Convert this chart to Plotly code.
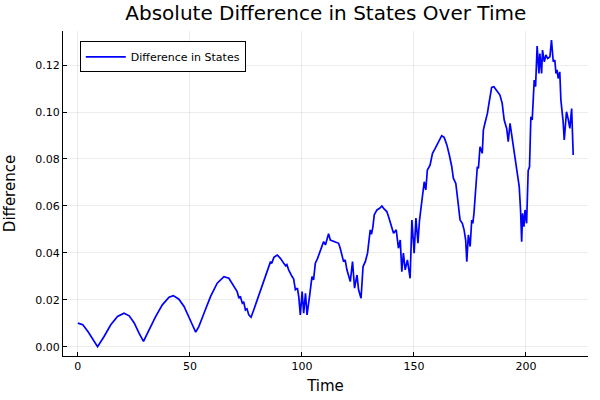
import plotly.graph_objects as go

time = [0, 2.2, 4.5, 6.7, 8.8, 11.7, 14.7, 17.7, 20.6, 22.9, 25.1, 27.3, 29.3, 31.8, 34.7,
        37.7, 40.7, 42.6, 45.1, 47.4, 49.6, 51.1, 52.6, 54.0, 56.3, 59.2, 62.2, 65.2, 67.4,
        69.6, 71.1, 71.9, 72.5, 73.4, 74.0, 74.8, 75.5, 76.3, 77.3, 78.5, 80.0, 82.3, 84.5,
        86.0, 86.5, 87.5, 89.0, 90.4, 91.9, 92.8, 93.3, 94.1, 95.6, 96.3, 97.1, 98.0, 98.6,
        99.3, 100.1, 100.8, 101.6, 102.3, 103.5, 104.5, 105.2, 106.0, 107.0, 108.2, 109.7,
        110.5, 111.9, 112.7, 114.9, 116.4, 117.1, 117.9, 118.6, 119.3, 120.1, 121.6, 122.6,
        123.5, 124.6, 125.3, 126.4, 127.3, 128.3, 129.3, 130.5, 131.1, 131.7, 132.3, 133.5,
        134.7, 135.7, 136.8, 137.9, 138.9, 139.8, 140.9, 142.1, 143.1, 143.9, 144.6, 145.3,
        146.1, 147.1, 148.3, 149.1, 150.1, 150.9, 151.8, 152.5, 153.5, 154.6, 155.3, 156.0,
        157.2, 158.3, 159.5, 160.6, 161.7, 162.4, 163.5, 164.7, 165.8, 166.9, 167.6, 168.7,
        169.4, 170.2, 170.6, 171.6, 172.4, 173.1, 173.6, 174.3, 175.1, 175.8, 176.3, 176.8,
        177.7, 178.3, 178.8, 179.5, 180.5, 181.0, 181.7, 182.8, 183.5, 184.7, 185.7, 186.9,
        188.4, 189.4, 190.3, 191.4, 192.1, 192.9, 193.6, 194.4, 195.4, 196.2, 197.0, 197.6,
        198.1, 198.5, 199.1, 199.6, 200.3, 201.0, 201.6, 202.2, 202.8, 203.7, 204.3, 205.0,
        205.8, 206.2, 207.0, 207.4, 208.2, 208.9, 209.7, 210.7, 211.4, 212.2, 212.9, 213.4,
        213.9, 214.4, 215.1, 215.6, 216.2, 216.6, 217.1, 217.7, 218.1, 218.8, 219.6, 220.4,
        221.1]

difference = [0.0101, 0.0094, 0.0065, 0.0034, 0.0001, 0.0044, 0.0094, 0.0129, 0.0143, 0.0132,
              0.0103, 0.0058, 0.0023, 0.0072, 0.0129, 0.0179, 0.0211, 0.0218, 0.0203, 0.0172,
              0.0122, 0.0094, 0.0063, 0.0086, 0.0143, 0.0214, 0.0271, 0.0299, 0.0292, 0.0258,
              0.0235, 0.0207, 0.0215, 0.0186, 0.0192, 0.0157, 0.0162, 0.0136, 0.0126, 0.0157,
              0.0200, 0.0257, 0.0320, 0.0363, 0.0355, 0.0381, 0.0391, 0.0377, 0.0356, 0.0345,
              0.0350, 0.0328, 0.0299, 0.0290, 0.0243, 0.0250, 0.0214, 0.0136, 0.0235, 0.0143,
              0.0228, 0.0136, 0.0221, 0.0299, 0.0285, 0.0356, 0.0377, 0.0405, 0.0448, 0.0434,
              0.0482, 0.0455, 0.0448, 0.0441, 0.0420, 0.0391, 0.0363, 0.0370, 0.0328, 0.0278,
              0.0363, 0.0250, 0.0306, 0.0243, 0.0207, 0.0342, 0.0363, 0.0399, 0.0498, 0.0480,
              0.0512, 0.0562, 0.0583, 0.0590, 0.0600, 0.0586, 0.0576, 0.0548, 0.0519, 0.0484,
              0.0498, 0.0420, 0.0455, 0.0320, 0.0399, 0.0328, 0.0370, 0.0292, 0.0540, 0.0399,
              0.0548, 0.0441, 0.0540, 0.0611, 0.0703, 0.0668, 0.0753, 0.0774, 0.0824, 0.0845,
              0.0867, 0.0888, 0.0899, 0.0892, 0.0860, 0.0817, 0.0767, 0.0718, 0.0696, 0.0640,
              0.0583, 0.0540, 0.0526, 0.0498, 0.0455, 0.0363, 0.0477, 0.0427, 0.0540, 0.0526,
              0.0569, 0.0682, 0.0767, 0.0760, 0.0852, 0.0824, 0.0923, 0.0952, 0.0994, 0.1037,
              0.1105, 0.1108, 0.1094, 0.1072, 0.1037, 0.0966, 0.0930, 0.0874, 0.0952, 0.0902,
              0.0852, 0.0796, 0.0725, 0.0682, 0.0583, 0.0448, 0.0569, 0.0512, 0.0583, 0.0526,
              0.0750, 0.0767, 0.0980, 0.0966, 0.1136, 0.1108, 0.1281, 0.1164, 0.1249, 0.1164,
              0.1264, 0.1214, 0.1243, 0.1228, 0.1235, 0.1306, 0.1214, 0.1221, 0.1164, 0.1179,
              0.1143, 0.1171, 0.1051, 0.1009, 0.0959, 0.0881, 0.0959, 0.1001, 0.0973, 0.0930,
              0.1015, 0.0817]

x_ticks = [0, 50, 100, 150, 200]
y_ticks = [0.00, 0.02, 0.04, 0.06, 0.08, 0.10, 0.12]

FONT = "DejaVu Sans"

fig = go.Figure()
fig.add_trace(go.Scatter(
    x=time, y=difference, mode="lines", name="Difference in States",
    line=dict(color="rgb(0,0,255)", width=1.7),
))

axis_common = dict(
    automargin=False,
    showgrid=True, gridcolor="rgba(0,0,0,0.07)", gridwidth=1,
    zeroline=False, showline=True, linecolor="black", linewidth=1, mirror=False,
    ticks="inside", ticklen=4, tickcolor="black", tickwidth=1,
    tickfont=dict(family=FONT, size=11, color="black"),
)

fig.update_layout(
    width=600, height=400,
    margin=dict(l=63, r=12, t=31, b=44, autoexpand=False),
    paper_bgcolor="white", plot_bgcolor="white",
    title=dict(text="Absolute Difference in States Over Time", x=0.543, xanchor="center",
               y=0.968, yanchor="middle",
               font=dict(family=FONT, size=20, color="black")),
    xaxis=dict(range=[-6.63, 227.7], tickvals=x_ticks,
               ticktext=[str(v) for v in x_ticks],
               title=dict(text="Time", font=dict(family=FONT, size=15, color="black"), standoff=8),
               **axis_common),
    yaxis=dict(range=[-0.0039, 0.1345], tickvals=y_ticks,
               ticktext=[f"{v:.2f}" for v in y_ticks],
               title=dict(text="Difference", font=dict(family=FONT, size=15, color="black"), standoff=16),
               **axis_common),
    showlegend=True,
    legend=dict(x=0.032, y=0.968, xanchor="left", yanchor="top",
                bordercolor="black", borderwidth=1, bgcolor="white",
                font=dict(family=FONT, size=11, color="black"),
                itemwidth=40, tracegroupgap=0),
)

fig.write_html("out.html", config={"displayModeBar": False},
               post_script="document.body.style.margin='0';")
